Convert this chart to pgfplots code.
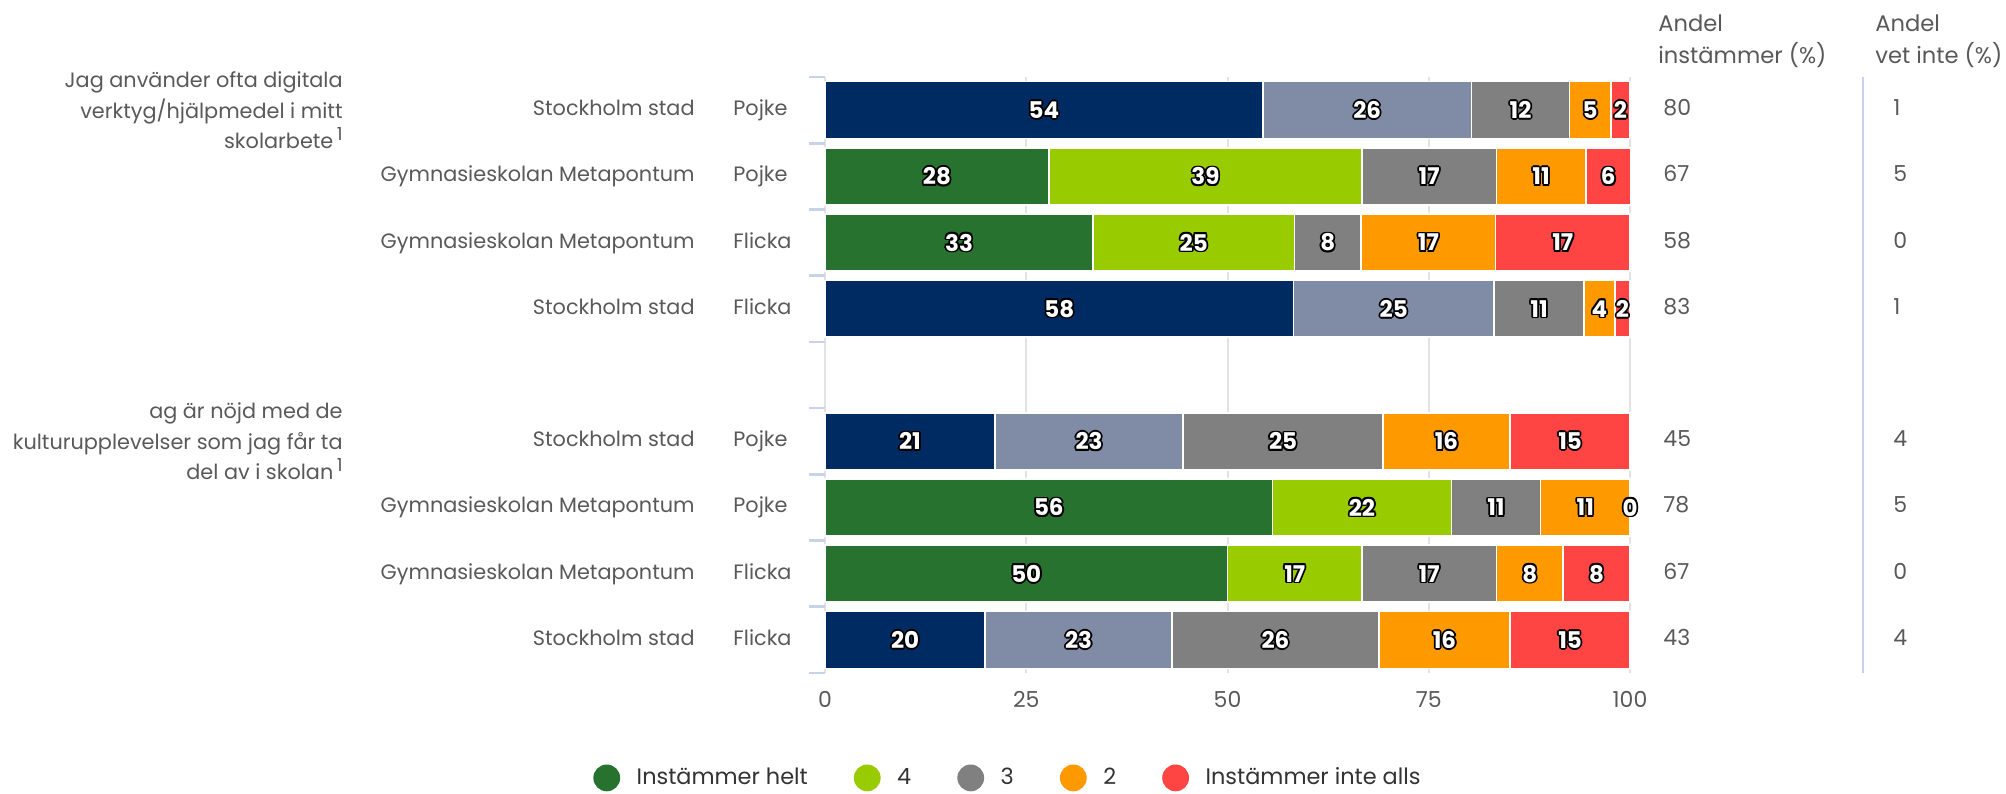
\documentclass[border=0pt]{standalone}
\usepackage{pgfplots}
\pgfplotsset{compat=1.18}
\usepackage{pgfplotstable}
\usepackage{fontspec}
\setmainfont{Poppins}
\pgfkeys{/pgf/number format/assume math mode=true}

\definecolor{navy}{HTML}{002B62}
\definecolor{greyblue}{HTML}{808BA6}
\definecolor{dkgreen}{HTML}{27722E}
\definecolor{lime}{HTML}{99CC00}
\definecolor{midgrey}{HTML}{808080}
\definecolor{orng}{HTML}{FF9900}
\definecolor{rd}{HTML}{FF4444}
\definecolor{txt}{HTML}{595959}
\definecolor{legtxt}{HTML}{333333}
\definecolor{tickblue}{HTML}{C8D3EA}
\definecolor{gridc}{HTML}{E3E3E3}

% white digits with a black rim
\newcommand\hl[3]{\rlap{\hspace*{#1}\raisebox{#2}{\color{black}#3}}}
\newcommand\halo[1]{\hl{-0.9bp}{0bp}{#1}\hl{0.9bp}{0bp}{#1}\hl{0bp}{0.9bp}{#1}\hl{0bp}{-0.9bp}{#1}%
  \hl{-0.64bp}{0.64bp}{#1}\hl{0.64bp}{0.64bp}{#1}\hl{-0.64bp}{-0.64bp}{#1}\hl{0.64bp}{-0.64bp}{#1}{\color{white}#1}}

% share per answer, rows 0-3 first statement, 5-8 second (4 is the gap)
\pgfplotstableread{
row nv   gb   gr   li   gy   or   rd
0   54.4 25.9 0    0    12.2 5.1  2.4
1   0    0    27.8 38.9 16.7 11.1 5.6
2   0    0    33.3 25.0 8.3  16.7 16.7
3   58.2 24.9 0    0    11.2 3.8  1.9
5   21.1 23.4 0    0    24.8 15.8 14.9
6   0    0    55.6 22.2 11.1 11.1 0.01
7   0    0    50.0 16.7 16.7 8.3  8.3
8   19.9 23.2 0    0    25.7 16.3 14.9
}\bars

\pgfplotsset{
  seg/.style={fill=#1, draw=white, line width=0.8bp},
  lab/.style={point meta=explicit,
    every node near coord/.append style={anchor=center,
      font=\bfseries\fontsize{11.5bp}{12bp}\selectfont}},
  nozero/.style={nodes near coords={\pgfmathfloatifflags{\pgfplotspointmeta}{0}{}%
      {\halo{\pgfmathprintnumber[fixed,precision=0]{\pgfplotspointmeta}}}}},
  allnum/.style={nodes near coords={\halo{\pgfmathprintnumber[fixed,precision=0]{\pgfplotspointmeta}}}},
}

\begin{document}
\begin{tikzpicture}[x=1bp,y=1bp]
\begin{axis}[
  at={(412.5bp,60bp)}, anchor=south west,
  width=402.5bp, height=298bp, scale only axis,
  xbar stacked, bar width=0.86,
  xmin=0, xmax=100, ymin=-0.5, ymax=8.5, y dir=reverse,
  axis line style={draw=none},
  xtick={0,25,50,75,100}, xtick style={draw=none},
  xmajorgrids, grid style={gridc, line width=1bp},
  xticklabel style={text=txt, font=\fontsize{11bp}{11bp}\selectfont, yshift=2.2bp},
  ytick={-0.5,0.5,...,8.5}, yticklabels={}, ytick pos=left,
  tick align=outside, major tick length=8bp,
  ytick style={tickblue, line width=1.3bp},
  clip=false,
  legend columns=5,
  legend image code/.code={\path[#1, draw=none] (0bp,0bp) circle (6.7bp);},
  legend style={at={(0.226,-0.176)}, anchor=center, draw=none,
    font=\fontsize{11.2bp}{12bp}\selectfont, text=legtxt,
    nodes={inner sep=0pt},
    /tikz/column sep=0pt,
    /tikz/every odd column/.append style={column sep=8.3bp},
    /tikz/every even column/.append style={column sep=23bp}},
]
\addplot[seg=navy, forget plot, lab, nozero] table[x=nv, y=row, meta=nv] {\bars};
\addplot[seg=greyblue, forget plot, lab, nozero] table[x=gb, y=row, meta=gb] {\bars};
\addplot[seg=dkgreen, lab, nozero] table[x=gr, y=row, meta=gr] {\bars};
\addlegendentry{Instämmer helt}
\addplot[seg=lime, lab, nozero] table[x=li, y=row, meta=li] {\bars};
\addlegendentry{4}
\addplot[seg=midgrey, lab, nozero] table[x=gy, y=row, meta=gy] {\bars};
\addlegendentry{3}
\addplot[seg=orng, lab, nozero] table[x=or, y=row, meta=or] {\bars};
\addlegendentry{2}
\addplot[seg=rd, lab, allnum] table[x=rd, y=row, meta=rd] {\bars};
\addlegendentry{Instämmer inte alls}
\end{axis}

\begin{scope}[every node/.style={inner sep=0pt, text=txt, font=\fontsize{10.4bp}{15.35bp}\selectfont}]
\foreach \r/\s/\g/\a/\v in {0/Stockholm stad/Pojke/80/1,
    1/Gymnasieskolan Metapontum/Pojke/67/5,
    2/Gymnasieskolan Metapontum/Flicka/58/0,
    3/Stockholm stad/Flicka/83/1,
    5/Stockholm stad/Pojke/45/4,
    6/Gymnasieskolan Metapontum/Pojke/78/5,
    7/Gymnasieskolan Metapontum/Flicka/67/0,
    8/Stockholm stad/Flicka/43/4}{
  \pgfmathsetmacro\yy{358-33.1111*(\r+0.5)}
  \node[anchor=mid east] at (347.5,\yy) {\s};
  \node[anchor=mid west] at (366.5,\yy) {\g};
  \node[anchor=mid west, font=\fontsize{11bp}{12bp}\selectfont] at (831.5,\yy) {\a};
  \node[anchor=mid west, font=\fontsize{11bp}{12bp}\selectfont] at (946.5,\yy) {\v};
}
\node[anchor=mid west, font=\fontsize{11.3bp}{12bp}\selectfont] at (829,383.7) {Andel};
\node[anchor=mid west, font=\fontsize{11.3bp}{12bp}\selectfont] at (829,367.7) {instämmer (\%)};
\node[anchor=mid west, font=\fontsize{11.3bp}{12bp}\selectfont] at (937.5,383.7) {Andel};
\node[anchor=mid west, font=\fontsize{11.3bp}{12bp}\selectfont] at (937.5,367.7) {vet inte (\%)};
\node[anchor=east, align=right] at (171.5,341.4)
  {Jag använder ofta digitala\\verktyg/hjälpmedel i mitt\\skolarbete\,\raisebox{0.7ex}{\fontsize{9bp}{9bp}\selectfont 1}};
\node[anchor=east, align=right] at (171.5,175.9)
  {ag är nöjd med de\\kulturupplevelser som jag får ta\\del av i skolan\,\raisebox{0.7ex}{\fontsize{9bp}{9bp}\selectfont 1}};
\end{scope}
\draw[tickblue, line width=1.2bp] (931.5,60) -- (931.5,358);

\pgfresetboundingbox
\path[use as bounding box] (0,0) rectangle (1003,396.5);
\end{tikzpicture}
\end{document}
